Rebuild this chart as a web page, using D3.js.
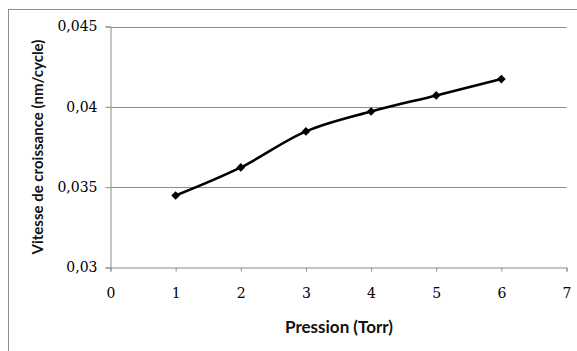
<!DOCTYPE html>
<html><head><meta charset="utf-8">
<script src="https://cdn.jsdelivr.net/npm/d3@7"></script>
<style>body{margin:0;background:#fff}</style>
</head><body>
<svg id="c" width="577" height="351"></svg>
<script>
const pressure = [1, 2, 3, 4, 5, 6];
const growthRate = [0.03448, 0.03623, 0.03847, 0.03971, 0.04071, 0.04173];
const xTicks = [0, 1, 2, 3, 4, 5, 6, 7];
const yTicks = [0.03, 0.035, 0.04, 0.045];
const xTitle = "Pression (Torr)";
const yTitle = "Vitesse de croissance (nm/cycle)";

const svg = d3.select("#c");
const font = "Lato, 'Open Sans', sans-serif";
const tickFont = "'DejaVu Serif', serif";
// outer frame
svg.append("rect").attr("x", 8.5).attr("y", 9.5).attr("width", 600).attr("height", 400)
  .attr("fill", "#fff").attr("stroke", "#8c8c8c").attr("stroke-width", 1);

const x = d3.scaleLinear().domain([0, 7]).range([110.5, 566.5]);
const y = d3.scaleLinear().domain([0.03, 0.045]).range([267.5, 26.5]);
const fmt = d => String(+d.toFixed(3)).replace(".", ",");

// gridlines
svg.append("g").selectAll("line").data(yTicks.filter(d => d > 0.03)).join("line")
  .attr("x1", x(0)).attr("x2", x(7)).attr("y1", d => Math.round(y(d)) + 0.5).attr("y2", d => Math.round(y(d)) + 0.5)
  .attr("stroke", "#8c8c8c").attr("stroke-width", 1);

const yAxis = svg.append("g").attr("transform", `translate(${x(0)},0)`)
  .call(d3.axisLeft(y).tickValues(yTicks).tickFormat(fmt).tickSize(5).tickPadding(8));
const xAxis = svg.append("g").attr("transform", `translate(0,${y(0.03)})`)
  .call(d3.axisBottom(x).tickValues(xTicks).tickFormat(d => d).tickSize(4).tickPadding(17));
[yAxis, xAxis].forEach(g => {
  g.select(".domain").attr("stroke", "#8c8c8c");
  g.selectAll(".tick line").attr("stroke", "#8c8c8c");
  g.selectAll("text").attr("fill", "#000").style("font-family", tickFont).style("font-size", "14px");
});

// line
const line = d3.line().x((d, i) => x(pressure[i])).y(d => y(d)).curve(d3.curveCatmullRom.alpha(0.5));
svg.append("path").datum(growthRate).attr("d", line)
  .attr("fill", "none").attr("stroke", "#000").attr("stroke-width", 2.6);

// diamond markers
const diamond = d3.symbol().type(d3.symbolDiamond2).size(48);
svg.append("g").selectAll("path").data(growthRate).join("path")
  .attr("transform", (d, i) => `translate(${x(pressure[i])},${y(d)})`)
  .attr("d", diamond).attr("fill", "#000");

// titles
svg.append("text").attr("x", 339).attr("y", 333).attr("text-anchor", "middle")
  .style("font-family", font).style("font-size", "17px").style("font-weight", "bold").attr("fill", "#111")
  .text(xTitle);
svg.append("text").attr("transform", "translate(43,147) rotate(-90)").attr("text-anchor", "middle")
  .style("font-family", font).style("font-size", "15px").style("font-weight", "bold").attr("fill", "#111")
  .text(yTitle);
</script>
</body></html>
